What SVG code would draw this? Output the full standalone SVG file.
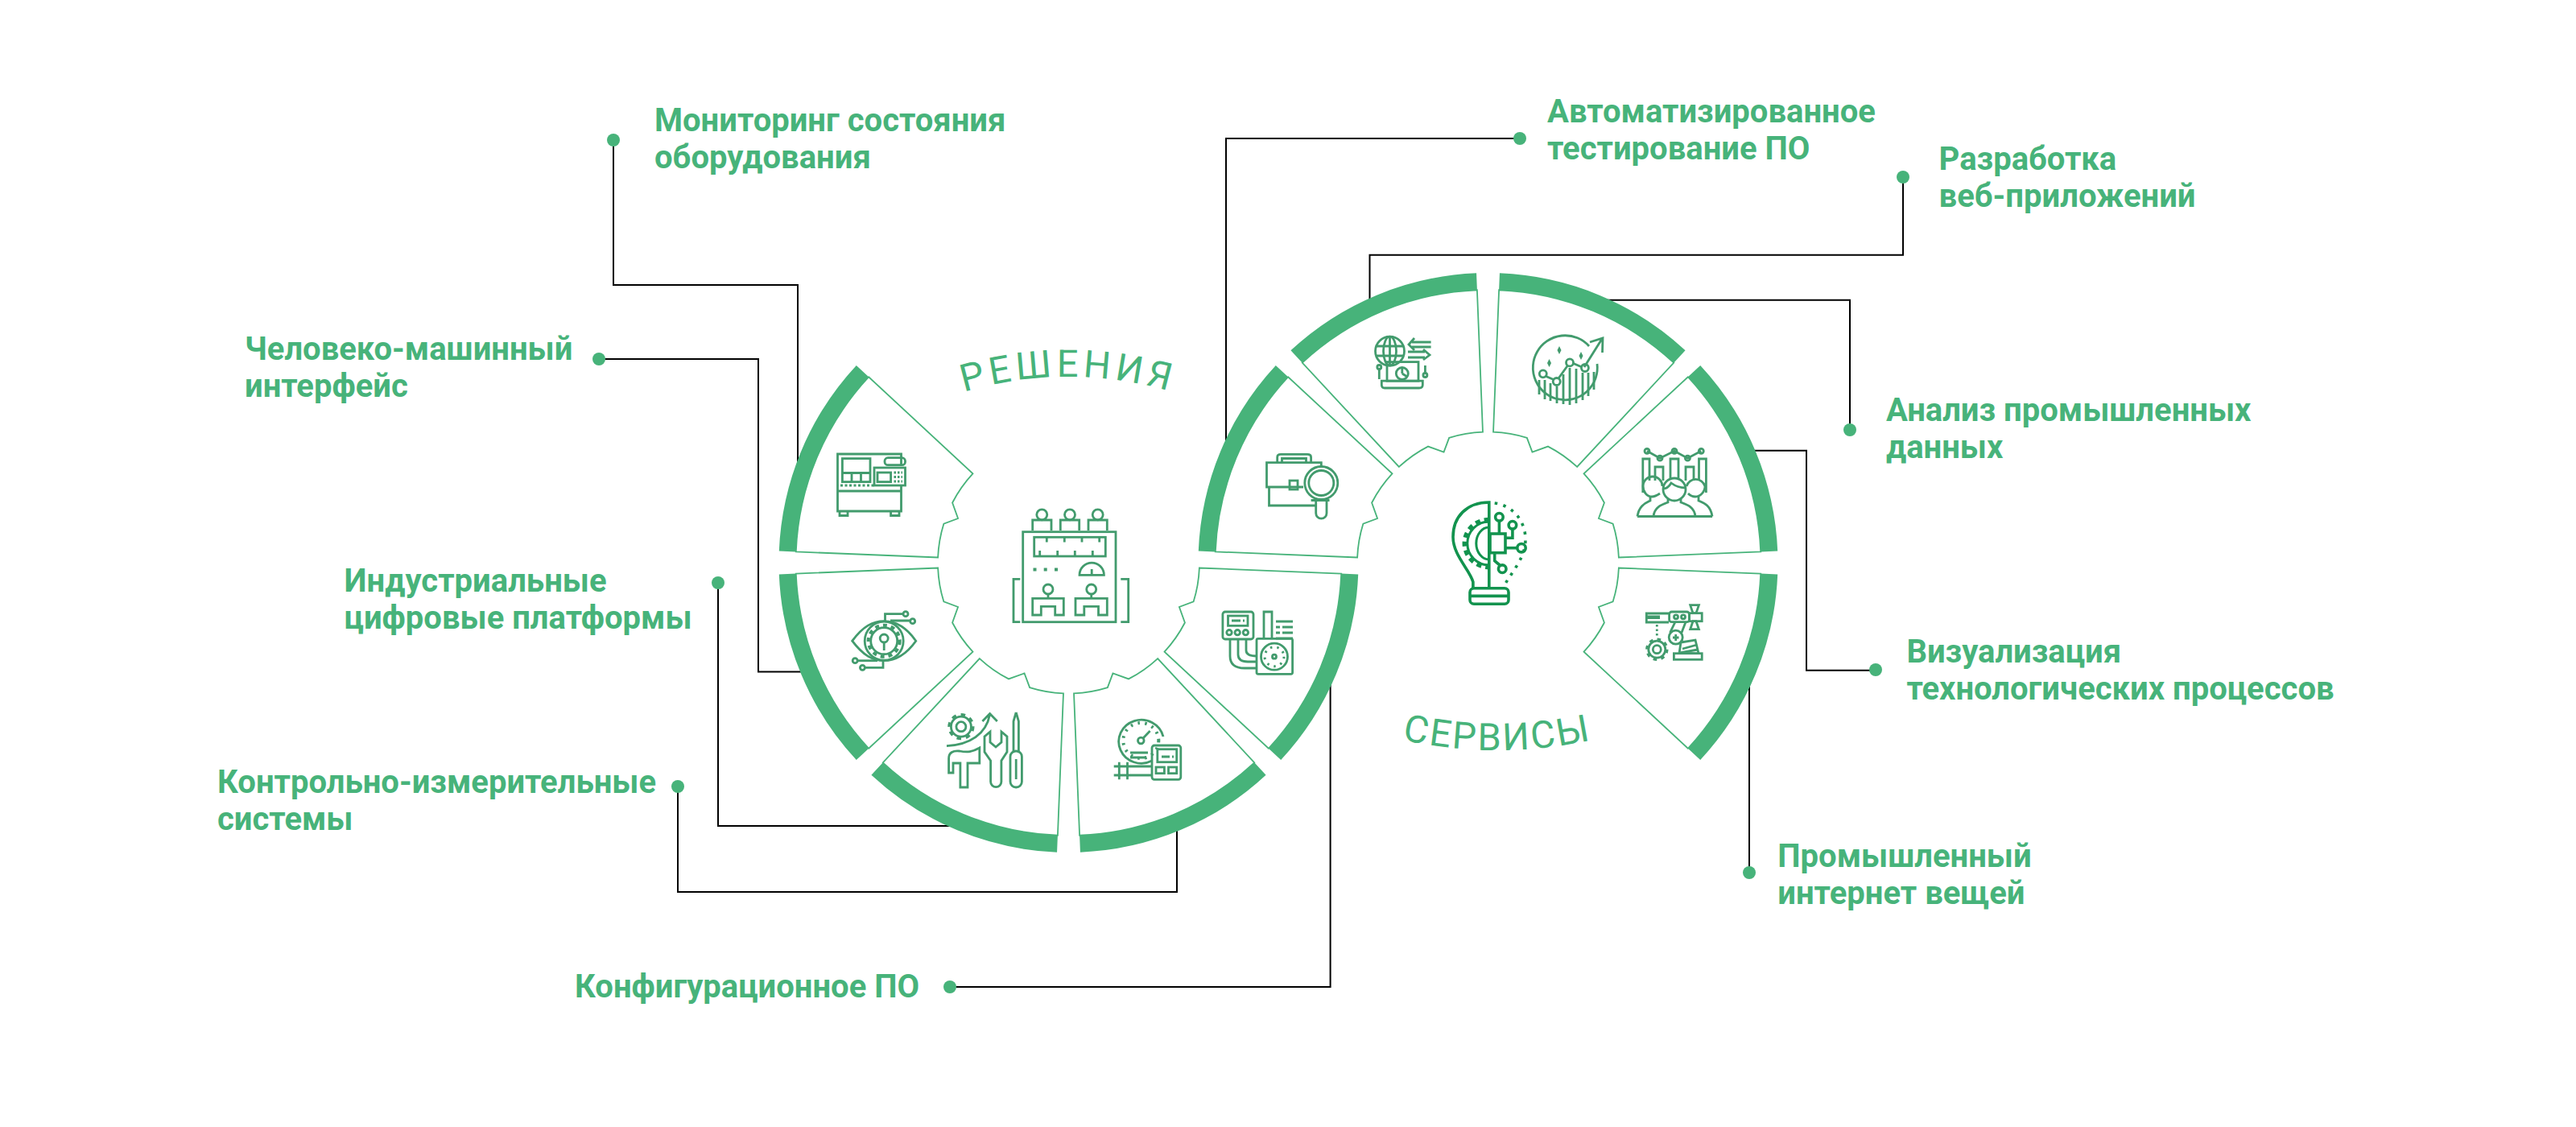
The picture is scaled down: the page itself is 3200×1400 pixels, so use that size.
<svg xmlns="http://www.w3.org/2000/svg" xmlns:xlink="http://www.w3.org/1999/xlink" width="3200" height="1400" viewBox="0 0 3200 1400">
<style>
.lab{font-family:Roboto,"Noto Sans",sans-serif;font-weight:700;font-size:40px;fill:#47b37a;transform:translate(-1px,1.5px)}
.arc{font-family:Roboto,"Noto Sans",sans-serif;font-size:47px;fill:#47b37a;font-weight:400}
.dot{fill:#47b37a}
.con{fill:none;stroke:#000;stroke-width:2}
.out{fill:#fff;stroke:#47b37a;stroke-width:1.8}
.ring{fill:#47b37a}
.ic{fill:none;stroke:#429b6d;stroke-width:2.8}
.ic .f{fill:#429b6d;stroke:none}
.bulb{fill:none;stroke:#12934e;stroke-width:3.6}
</style>
<defs>
<g id="seg">
<path class="out" d="M338.73 13.6L162.37 6.52A162.5 162.5 0 0 1 155.15 48.32L137.42 54.96L144.4 74.53A162.5 162.5 0 0 1 119.04 110.62L248.33 230.76A339 339 0 0 0 338.73 13.6Z"/>
<path class="ring" d="M359.71 14.45A360 360 0 0 1 263.71 245.06L248.33 230.76A339 339 0 0 0 338.73 13.6Z"/>
</g>
<path id="arcA" d="M1102 528.3A450 450 0 0 1 1552 528.3"/>
<path id="arcB" d="M1586 858.4A547 547 0 0 0 2134 858.4"/>
</defs>
<rect width="3200" height="1400" fill="#fff"/>
<g id="connectors" class="con">
<path d="M762 174V354H991V590"/>
<path d="M744 446H942V834.5H1005"/>
<path d="M892 724V1026H1190"/>
<path d="M842 977V1108H1462V1025"/>
<path d="M1180 1226H1652.6V840"/>
<path d="M1888 172H1523V555"/>
<path d="M2364 220V316.7H1701.5V380"/>
<path d="M2298 534V372.7H1995"/>
<path d="M2330 832.7H2244V559.7H2175"/>
<path d="M2173 1084V845"/>
</g>
<g id="title-resheniya"><text class="arc" letter-spacing="5.5" text-anchor="middle"><textPath href="#arcA" xlink:href="#arcA" startOffset="50%">РЕШЕНИЯ</textPath></text></g>
<g id="title-servisy"><text class="arc" letter-spacing="2.5" text-anchor="middle"><textPath href="#arcB" xlink:href="#arcB" startOffset="50%">СЕРВИСЫ</textPath></text></g>

<g id="center-solutions" class="ic">
<rect x="1270.7" y="660.7" width="115.3" height="112"/>
<circle cx="1294.3" cy="639.3" r="6.5"/><circle cx="1329" cy="639.3" r="6.5"/><circle cx="1363.7" cy="639.3" r="6.5"/>
<path d="M1282.7 659V646H1306V659M1317.3 659V646H1340.7V659M1352 659V646H1375.3V659"/>
<rect x="1284.7" y="667.3" width="88.6" height="23.7"/>
<path d="M1300.3 667V673.5M1322.3 667V673.5M1344 667V673.5M1365.7 667V673.5M1291.7 691V684M1313.7 691V684M1335.3 691V684M1357.3 691V684"/>
<path class="f" d="M1283.5 705.5h4v4h-4zM1296.7 705.5h4v4h-4zM1310 705.5h4v4h-4z"/>
<path d="M1341 714.3A15.2 15.2 0 0 1 1371.4 714.3ZM1356.2 714V707"/>
<circle cx="1302" cy="732" r="6"/><circle cx="1355.7" cy="732" r="6"/>
<path d="M1302 738V743M1355.7 738V743"/>
<path d="M1282.7 764V743.3H1321.3V764H1310.7V753.3H1293.3V764Z"/>
<path d="M1336 764V743.3H1375.3V764H1364.5V753.3H1346.8V764Z"/>
<path d="M1267.3 719.3H1259V772.7H1267.3M1392.3 719.3H1401.7V772.7H1392.3"/>
</g>

<g id="center-services" class="bulb">
<path d="M1849.8 730.7V624C1822 624 1805 642 1805 667C1805 690 1826 708 1829.9 723V730.7"/>
<rect x="1826" y="730.7" width="48" height="19.5" rx="5"/>
<path d="M1826 740.4H1874"/>
<path d="M1849.8 655A16 20 0 0 0 1849.8 695" stroke-width="3"/>
<path d="M1849.8 646A30 29 0 0 0 1849.8 704" stroke-width="6.5" stroke-dasharray="6 5"/>
<path d="M1849.8 648A27 27 0 0 0 1849.8 702" stroke-width="3"/>
<rect x="1851" y="663" width="19" height="23.7"/>
<circle cx="1862.4" cy="642.3" r="4.8"/><path d="M1862.4 647V663"/>
<circle cx="1878.9" cy="652.3" r="4.8"/><path d="M1878.9 657V668.3H1870"/>
<circle cx="1890" cy="680.7" r="5.2"/><path d="M1885 680.7H1870"/>
<circle cx="1866.2" cy="706.7" r="4.8"/><path d="M1856.7 686.7V696.7L1863 702"/>
<path d="M1856.7 625C1880 628 1895 648 1895 670C1895 692 1880 708 1870 725" stroke-width="3.6" stroke-dasharray="3.5 7.5"/>
</g>

<g id="node-monitoring">
<use href="#seg" xlink:href="#seg" transform="translate(1327.5 699) scale(-1 -1)"/>
<g class="ic">
<path d="M1119.5 577V564H1040.5V635H1119.5V603"/>
<rect x="1046.4" y="569.6" width="34.6" height="29"/>
<path d="M1046.4 587.5H1081M1058 587.5V598.6M1069.5 587.5V598.6M1040.5 610H1119.5"/>
<path d="M1044 603H1086" stroke-dasharray="3 2.5"/>
<rect x="1086" y="581" width="38.5" height="22"/>
<rect x="1090" y="587" width="16.6" height="11.6"/>
<path d="M1110.5 587H1121M1110.5 592.5H1121M1110.5 598H1121" stroke-dasharray="2.5 2"/>
<rect x="1099" y="568.7" width="25.5" height="9" rx="4"/>
<path d="M1043 635V640.5H1053V635M1106.6 635V640.5H1117V635"/>
</g>
<circle class="dot" cx="762" cy="174" r="8"/>
<text class="lab"><tspan x="814" y="161.7">Мониторинг состояния</tspan><tspan x="814" y="207.7">оборудования</tspan></text>
</g>

<g id="node-hmi">
<use href="#seg" xlink:href="#seg" transform="translate(1327.5 699) scale(-1 1)"/>
<g class="ic">
<path d="M1058.7 796.2C1072 778 1084 771.7 1098.2 771.7C1112 771.7 1125 778 1137.8 796.2C1125 814 1112 820.7 1098.2 820.7C1084 820.7 1072 814 1058.7 796.2Z"/>
<circle cx="1098.2" cy="796.2" r="24"/>
<circle cx="1098.2" cy="796.2" r="16.5"/>
<circle cx="1098.2" cy="796.2" r="19.5" stroke-width="4" stroke-dasharray="5 5"/>
<circle cx="1098.2" cy="793" r="5"/>
<path d="M1098.2 798V808"/>
<path d="M1099.5 771V762.7H1123M1106 771H1130"/>
<circle cx="1125" cy="762.7" r="3"/><circle cx="1133.7" cy="771.7" r="3"/>
<path d="M1097 821V829.3H1075"/>
<circle cx="1071.4" cy="829.3" r="3"/><circle cx="1062.2" cy="820.7" r="3"/>
<path d="M1065.5 820.7H1090"/>
</g>
<circle class="dot" cx="744" cy="446" r="8"/>
<text class="lab"><tspan x="305" y="445">Человеко-машинный</tspan><tspan x="305" y="491">интерфейс</tspan></text>
</g>

<g id="node-platforms">
<use href="#seg" xlink:href="#seg" transform="translate(1327.5 699) rotate(90)"/>
<g class="ic">
<circle cx="1193.9" cy="902.7" r="12.5"/>
<circle cx="1193.9" cy="902.7" r="14.8" stroke-width="3.6" stroke-dasharray="5.5 6"/>
<circle cx="1193.9" cy="902.7" r="6"/>
<path d="M1176 926.7C1205 925 1225 912 1229.6 887.5M1220.4 896L1229.6 886.5L1238.8 896"/>
<path d="M1192.9 978V948H1184V960H1178.6V942C1178.6 935 1184 932 1192 933C1202 935 1208 934 1216.8 929V948H1202V978Z"/>
<path d="M1230.6 971V945L1223 934V915L1230 909V922L1237 928L1244 922V909L1251 915V934L1243.9 945V971A6.6 6.6 0 0 1 1230.6 971Z"/>
<path d="M1262.2 885L1259 896V933M1262.2 885L1265.4 896V933"/>
<rect x="1255" y="933" width="14.4" height="45" rx="7"/>
<path d="M1262.2 943V968"/>
</g>
<circle class="dot" cx="892" cy="724" r="8"/>
<text class="lab"><tspan x="428.6" y="733.3">Индустриальные</tspan><tspan x="428.6" y="779.3">цифровые платформы</tspan></text>
</g>

<g id="node-measure">
<use href="#seg" xlink:href="#seg" transform="translate(1327.5 699) scale(-1 1) rotate(90)"/>
<g class="ic">
<path d="M1431 945A28 27 0 1 1 1445 915"/>
<circle cx="1417.3" cy="920" r="22" stroke-width="4" stroke-dasharray="2.5 6.5"/>
<circle cx="1417.3" cy="920" r="3.8"/>
<path d="M1420 917L1428.6 908"/>
<rect x="1431" y="926" width="35.8" height="42.3" rx="3"/>
<rect x="1437.8" y="930.7" width="23.9" height="16"/>
<path d="M1443 940H1453M1456 940H1458"/>
<rect x="1436" y="953" width="10.4" height="7.7"/><rect x="1451.5" y="953" width="10.2" height="7.7"/>
<path d="M1404 935H1426M1404 941H1424M1383.7 952H1431M1383.7 963H1431M1390.3 946.7V968.3M1400.5 946.7V968.3"/>
</g>
<circle class="dot" cx="842" cy="977" r="8"/>
<text class="lab"><tspan x="271" y="983.3">Контрольно-измерительные</tspan><tspan x="271" y="1029.7">системы</tspan></text>
</g>

<g id="node-config">
<use href="#seg" xlink:href="#seg" transform="translate(1327.5 699)"/>
<g class="ic">
<rect x="1518.9" y="760" width="38.1" height="34" rx="3"/>
<rect x="1525.5" y="765" width="24.5" height="12.3"/>
<path d="M1530 771H1541M1544 771H1546"/>
<circle cx="1527" cy="785.7" r="3.2"/><circle cx="1537.2" cy="785.7" r="3.2"/><circle cx="1547.4" cy="785.7" r="3.2"/>
<path d="M1528 794V815Q1528 830 1546 830H1561M1538 794V813Q1538 822 1550 822H1561M1548 794V808Q1548 815 1561 815"/>
<rect x="1561" y="793.3" width="44.6" height="44" rx="2"/>
<circle cx="1583" cy="815.7" r="16.5"/>
<circle cx="1583" cy="815.7" r="12" stroke-width="3" stroke-dasharray="2.5 6"/>
<circle cx="1583" cy="815.7" r="2.5"/>
<path d="M1570 793V760H1580V793M1585 772H1606M1593 779H1606M1593 786H1606M1585 793H1606M1585 779H1590M1585 786H1590"/>
</g>
<circle class="dot" cx="1180" cy="1226" r="8"/>
<text class="lab"><tspan x="715" y="1237.7">Конфигурационное ПО</tspan></text>
</g>

<g id="node-testing">
<use href="#seg" xlink:href="#seg" transform="translate(1848.5 699) scale(-1 -1)"/>
<g class="ic">
<path d="M1619 605H1573.5V574.6H1641.3V580M1576.5 605V628H1634"/>
<path d="M1586.7 574V568Q1586.7 564.3 1591 564.3H1624Q1628.6 564.3 1628.6 568V574M1592.5 574V569.5H1622.5V574"/>
<rect x="1602" y="597" width="10" height="11"/>
<circle cx="1641.3" cy="600" r="20.5"/><circle cx="1641.3" cy="600" r="15.5"/>
<path d="M1628.6 621.5H1651.5M1634.7 622V637.5A6.6 6.6 0 0 0 1648 637.5V622"/>
</g>
<circle class="dot" cx="1888" cy="172" r="8"/>
<text class="lab"><tspan x="1923" y="150">Автоматизированное</tspan><tspan x="1923" y="196">тестирование ПО</tspan></text>
</g>

<g id="node-web">
<use href="#seg" xlink:href="#seg" transform="translate(1848.5 699) scale(-1 1) rotate(-90)"/>
<g class="ic" stroke-width="2.4">
<circle cx="1726.5" cy="436.2" r="18"/>
<ellipse cx="1726.5" cy="436.2" rx="8" ry="18"/>
<path d="M1726.5 418V454M1709 430H1744M1709 442H1744"/>
<path d="M1777.6 425H1754M1777.6 431H1754M1757 420L1750 428L1757 435"/>
<path d="M1749 437H1770M1749 444H1770M1768 434L1776 441L1768 447"/>
<rect x="1723" y="449.6" width="39" height="23.6"/>
<path d="M1716.3 473.2H1767.3V478Q1767.3 482 1763 482H1720Q1716.3 482 1716.3 478Z"/>
<circle cx="1741.8" cy="464" r="7.5"/>
<path d="M1741.8 464V456.5M1741.8 464L1748 468"/>
<circle cx="1713.3" cy="456" r="2.5"/><path d="M1713.3 458.5V471"/>
<path d="M1770.4 454V463"/><circle cx="1770.4" cy="466" r="2.5"/>
</g>
<circle class="dot" cx="2364" cy="220" r="8"/>
<text class="lab"><tspan x="2409.6" y="209.3">Разработка</tspan><tspan x="2409.6" y="255.3">веб-приложений</tspan></text>
</g>

<g id="node-analytics">
<use href="#seg" xlink:href="#seg" transform="translate(1848.5 699) rotate(-90)"/>
<g class="ic">
<path d="M1974 430A40 40 0 1 0 1984 452"/>
<path d="M1968 456L1990 421M1975 425L1991 420L1990.5 438"/>
<path d="M1919.5 467L1931 472M1936 470L1947.5 454M1953.5 451L1965 456"/>
<circle cx="1916.8" cy="464.3" r="4.5"/><circle cx="1933.7" cy="474" r="4.5"/><circle cx="1950" cy="450.4" r="4.5"/><circle cx="1968.9" cy="457" r="4.5"/>
<path d="M1912 472V490M1919 472V496M1926 476V498M1934 480V501M1942 465V502M1950 457V503M1958 458V501M1966 463V497M1973 463V492M1980 462V484"/>
<path class="f" d="M1937 430l2.5 5-2.5 5-2.5-5zM1924.5 446l2.5 5-2.5 5-2.5-5zM1964 437l2.5 5-2.5 5-2.5-5z"/>
</g>
<circle class="dot" cx="2298" cy="534" r="8"/>
<text class="lab"><tspan x="2343.9" y="521.7">Анализ промышленных</tspan><tspan x="2343.9" y="567.7">данных</tspan></text>
</g>

<g id="node-visual">
<use href="#seg" xlink:href="#seg" transform="translate(1848.5 699) scale(1 -1)"/>
<g class="ic">
<circle cx="2046" cy="560.3" r="3"/><circle cx="2062" cy="569.2" r="3"/><circle cx="2080" cy="560.3" r="3"/><circle cx="2096.4" cy="569.2" r="3"/><circle cx="2113.3" cy="560.3" r="3"/>
<path d="M2046 560.3L2062 569.2L2080 560.3L2096.4 569.2L2113.3 560.3"/>
<path d="M2040.8 612V570H2049V597M2056 597V580H2066V597M2075 595V570H2085V595M2094 597V580H2104V597M2110.5 597V570H2119.4V612"/>
<path d="M2066 608A14 14 0 1 1 2094 608C2094 616 2087 622 2080 622C2073 622 2066 616 2066 608Z"/>
<path d="M2066 607Q2072 607 2076 600Q2084 606 2094 606"/>
<path d="M2065 604A12 12 0 0 0 2041 604C2041 611 2046 617 2052 617C2056 617 2059 615 2062 613"/>
<path d="M2095 604A12 12 0 0 1 2118 604C2118 611 2112 617 2106 617C2102 617 2099 615 2097 613"/>
<path d="M2034 641.5H2127M2034 641.5C2036 628 2044 625 2050 622V617M2127 641.5C2125 628 2117 625 2110 622V617M2054 641.5C2055 630 2064 627 2072 624V620M2106 641.5C2105 630 2096 627 2088 624V620"/>
</g>
<circle class="dot" cx="2330" cy="832" r="8"/>
<text class="lab"><tspan x="2369.4" y="821.7">Визуализация</tspan><tspan x="2369.4" y="867.7">технологических процессов</tspan></text>
</g>

<g id="node-iiot">
<use href="#seg" xlink:href="#seg" transform="translate(1848.5 699)"/>
<g class="ic" stroke-width="2.4">
<path d="M2073 762H2045.3V766H2062M2062 767.5H2045.3V773H2073"/>
<rect x="2073.6" y="760" width="24.9" height="12.7" rx="3"/>
<circle cx="2082" cy="766.3" r="2.5"/><circle cx="2091" cy="766.3" r="2.5"/>
<rect x="2098.5" y="761.7" width="15.7" height="10"/>
<path d="M2099.7 751.7H2110.4L2107 761.7H2103ZM2103 771.7H2107L2110.4 781.7H2099.7Z"/>
<path d="M2058.3 776V790" stroke-dasharray="2.5 3"/>
<circle cx="2058.3" cy="806.7" r="10.5"/>
<circle cx="2058.3" cy="806.7" r="12.5" stroke-width="3.4" stroke-dasharray="4.5 5.3"/>
<circle cx="2058.3" cy="806.7" r="5"/>
<circle cx="2081.7" cy="791.7" r="8.5"/>
<path d="M2078 792H2085.5M2081.7 788V796"/>
<path d="M2074.5 786L2081 772.7M2088.5 787L2094 772.7"/>
<path d="M2088 798L2106 795L2110 811.7H2086Z"/>
<path d="M2090 806L2108 801M2086.5 811L2109 807"/>
<rect x="2079.4" y="811.7" width="34.8" height="7.6"/>
</g>
<circle class="dot" cx="2173" cy="1084" r="8"/>
<text class="lab"><tspan x="2209.3" y="1075.7">Промышленный</tspan><tspan x="2209.3" y="1121.7">интернет вещей</tspan></text>
</g>
</svg>
